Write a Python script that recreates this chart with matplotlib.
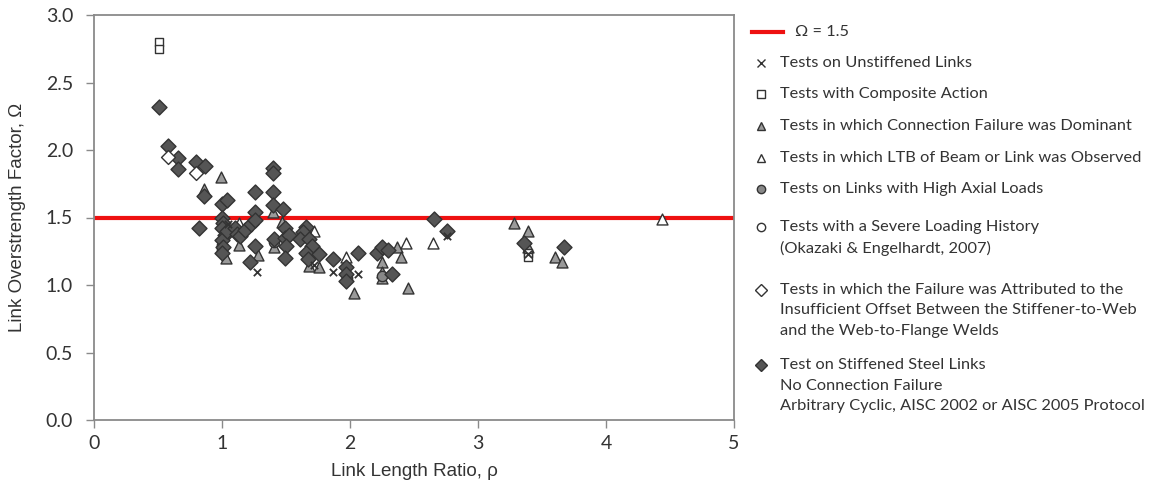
import matplotlib.pyplot as plt

# link length ratio / overstrength factor
stiff_x = [0.51, 0.58, 0.66, 0.66, 0.80, 0.87, 0.86, 0.82, 1.00, 1.04, 1.00, 1.01, 1.00, 1.02,
           1.00, 1.01, 1.00, 1.04, 1.10, 1.12, 1.14, 1.18, 1.23, 1.26, 1.26, 1.26, 1.26, 1.22,
           1.40, 1.40, 1.40, 1.40, 1.48, 1.41, 1.49, 1.49, 1.52, 1.50, 1.49, 1.66, 1.63, 1.61,
           1.68, 1.70, 1.66, 1.67, 1.76, 1.87, 1.97, 1.97, 1.97, 2.06, 2.21, 2.25, 2.30, 2.33,
           2.66, 2.76, 3.36, 3.67]
stiff_y = [2.32, 2.03, 1.94, 1.86, 1.91, 1.88, 1.66, 1.42, 1.60, 1.63, 1.50, 1.46, 1.42, 1.37,
           1.33, 1.28, 1.24, 1.40, 1.42, 1.38, 1.36, 1.41, 1.45, 1.54, 1.48, 1.69, 1.29, 1.17,
           1.87, 1.83, 1.69, 1.59, 1.56, 1.34, 1.42, 1.35, 1.37, 1.29, 1.20, 1.43, 1.39, 1.34,
           1.34, 1.29, 1.24, 1.19, 1.23, 1.19, 1.13, 1.08, 1.03, 1.24, 1.24, 1.28, 1.26, 1.08,
           1.49, 1.40, 1.31, 1.28]

unstiff_x = [1.27, 1.87, 2.06, 2.76, 3.39, 1.05, 1.72]
unstiff_y = [1.10, 1.10, 1.08, 1.36, 1.23, 1.45, 1.15]

comp_x = [0.51, 0.51, 3.39, 3.39]
comp_y = [2.80, 2.75, 1.24, 1.21]

conn_x = [0.99, 0.86, 1.03, 1.13, 1.40, 1.41, 1.47, 1.68, 1.76, 2.25, 2.25, 2.25, 2.37, 2.40,
          2.45, 2.03, 3.28, 3.39, 3.39, 3.60, 3.66, 1.28]
conn_y = [1.80, 1.71, 1.20, 1.30, 1.54, 1.28, 1.47, 1.14, 1.13, 1.17, 1.10, 1.05, 1.28, 1.21,
          0.98, 0.94, 1.46, 1.40, 1.28, 1.21, 1.17, 1.22]

ltb_x = [4.44, 2.65, 1.97, 1.72, 1.13, 2.44]
ltb_y = [1.49, 1.31, 1.21, 1.40, 1.46, 1.31]

axial_x = [1.00, 1.00, 1.98, 1.41, 1.68, 2.25]
axial_y = [1.30, 1.26, 1.05, 1.32, 1.20, 1.07]

severe_x = []
severe_y = []

offset_x = [0.58, 0.80]
offset_y = [1.95, 1.83]

omega = 1.5

plt.rcParams['font.family'] = ['Lato', 'DejaVu Sans']
fig = plt.figure(figsize=(11.49, 4.88), dpi=100)
ax = fig.add_axes([94/1149, 1-420/488, (734-94)/1149, (420-15)/488])

ax.axhline(omega, color='#ee1111', lw=3, zorder=1)
ec = '#333333'
ax.scatter(conn_x, conn_y, marker='^', s=62, c='#9a9a9a', edgecolors=ec, lw=1, zorder=2)
ax.scatter(ltb_x, ltb_y, marker='^', s=62, c='white', edgecolors=ec, lw=1, zorder=2)
ax.scatter(axial_x, axial_y, marker='o', s=55, c='#888888', edgecolors=ec, lw=1, zorder=2)
ax.scatter(severe_x, severe_y, marker='o', s=55, c='white', edgecolors=ec, lw=1, zorder=2)
ax.scatter(comp_x, comp_y, marker='s', s=40, c='white', edgecolors=ec, lw=1, zorder=3)
ax.scatter(stiff_x, stiff_y, marker='D', s=58, c='#555555', edgecolors=ec, lw=1, zorder=3)
ax.scatter(offset_x, offset_y, marker='D', s=50, c='white', edgecolors=ec, lw=1, zorder=3)
ax.scatter(unstiff_x, unstiff_y, marker='x', s=28, c=ec, lw=1.3, zorder=4)

ax.set_xlim(0, 5)
ax.set_ylim(0, 3)
ax.set_xticks(range(6))
ax.set_yticks([0, 0.5, 1, 1.5, 2, 2.5, 3])
ax.set_yticklabels(['0.0', '0.5', '1.0', '1.5', '2.0', '2.5', '3.0'])
for s in ax.spines.values():
    s.set_color('#8a8a8a')
    s.set_linewidth(1.3)
ax.tick_params(colors='#8a8a8a', labelcolor='#333333', labelsize=14, length=6, width=1)
ax.tick_params(axis='y', pad=9)
ax.tick_params(axis='x', pad=5)
ax.set_xlabel('Link Length Ratio, ρ', fontsize=13.5, color='#333333', family='Liberation Sans')
ax.set_ylabel('Link Overstrength Factor, Ω', fontsize=13.5, color='#333333', family='Liberation Sans')
ax.xaxis.set_label_coords(0.5, -0.105)
ax.yaxis.set_label_coords(-0.107, 0.5)

# legend drawn in pixel coordinates
lax = fig.add_axes([0, 0, 1, 1])
lax.set_xlim(0, 1149)
lax.set_ylim(488, 0)
lax.axis('off')
fs = 11.8
tc = '#333333'
lax.plot([752, 783], [32, 32], color='#ee1111', lw=3)
lax.text(795, 32, 'Ω = 1.5', fontsize=fs, va='center', color=tc)
entries = [
    (63, 'x', '#333333', ['Tests on Unstiffened Links']),
    (94, 's', 'white', ['Tests with Composite Action']),
    (126, '^', '#9a9a9a', ['Tests in which Connection Failure was Dominant']),
    (158, '^', 'white', ['Tests in which LTB of Beam or Link was Observed']),
    (189, 'o', '#888888', ['Tests on Links with High Axial Loads']),
    (227, 'o', 'white', ['Tests with a Severe Loading History', '(Okazaki & Engelhardt, 2007)']),
    (290, 'D', 'white', ['Tests in which the Failure was Attributed to the',
                         'Insufficient Offset Between the Stiffener-to-Web',
                         'and the Web-to-Flange Welds']),
    (365, 'D', '#555555', ['Test on Stiffened Steel Links', 'No Connection Failure',
                           'Arbitrary Cyclic, AISC 2002 or AISC 2005 Protocol']),
]
for y0, m, fc, lines in entries:
    lax.plot([761], [y0], marker=m, ms=6, mfc=fc, mec='#333333', mew=1, color='#333333', ls='none')
    dy = 20.5 if len(lines) == 3 else 21
    for i, t in enumerate(lines):
        lax.text(780, y0 + i * dy, t, fontsize=fs, va='center', color=tc)

fig.savefig('out.png', dpi=100)
